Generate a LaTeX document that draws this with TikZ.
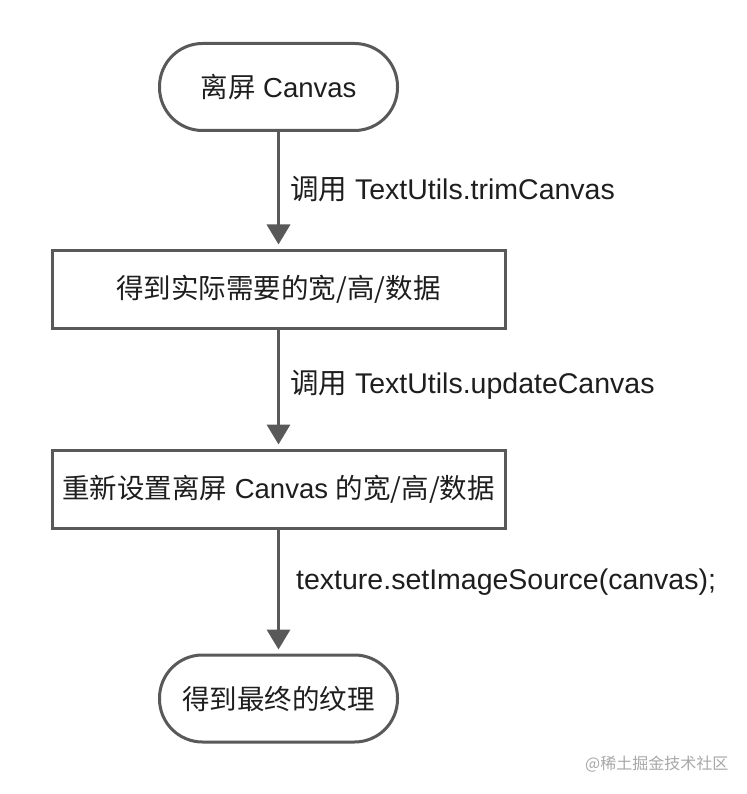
\documentclass[tikz,border=0pt]{standalone}
\usepackage{fontspec}
\setmainfont{Liberation Sans}
\newfontfamily\cjk{Noto Sans CJK SC}
\usetikzlibrary{arrows.meta}
\definecolor{linegray}{HTML}{595959}
\definecolor{txt}{HTML}{1E1E1E}
\definecolor{wm}{HTML}{A8A8A8}
\tikzset{
  stadium/.style={draw=linegray, line width=3pt, rounded corners=43pt,
    minimum width=238pt, minimum height=87pt, inner sep=0pt, text=txt,
    font=\fontsize{27.5}{32}\selectfont},
  procbox/.style={draw=linegray, line width=3pt,
    minimum width=453pt, minimum height=78pt, inner sep=0pt, text=txt,
    font=\fontsize{27.5}{32}\selectfont},
  flow/.style={draw=linegray, line width=3.5pt,
    -{Triangle[width=23pt,length=20pt]}, shorten >=4pt},
  lbl/.style={anchor=west, inner sep=0pt, text=txt,
    font=\fontsize{28.5}{32}\selectfont}
}
\begin{document}
\begin{tikzpicture}[x=1pt,y=-1pt]
\useasboundingbox (0,0) rectangle (746,794);
\fill[white] (0,0) rectangle (746,794);

\node[stadium] (s1) at (278.5,87) {{\cjk 离屏} Canvas};
\node[procbox] (b2) at (278.5,289) {\cjk 得到实际需要的宽/高/数据};
\node[procbox] (b3) at (278.5,489) {{\cjk 重新设置离屏} Canvas {\cjk 的宽/高/数据}};
\node[stadium] (s4) at (278.5,698.5) {\cjk 得到最终的纹理};

\draw[flow] (s1) -- (b2);
\draw[flow] (b2) -- (b3);
\draw[flow] (b3) -- (s4);

\node[lbl] (l1) at (290,189) {{\cjk 调用} TextUtils.trimCanvas};
\node[lbl] (l2) at (290,385) {{\cjk 调用} TextUtils.updateCanvas};
\node[lbl] (l3) at (296,582) {texture.setImageSource(canvas);};

\node[anchor=west, inner sep=0pt, text=wm, font=\cjk\fontsize{16}{20}\selectfont] (wmk) at (585,764) {@稀土掘金技术社区};
\end{tikzpicture}
\end{document}
